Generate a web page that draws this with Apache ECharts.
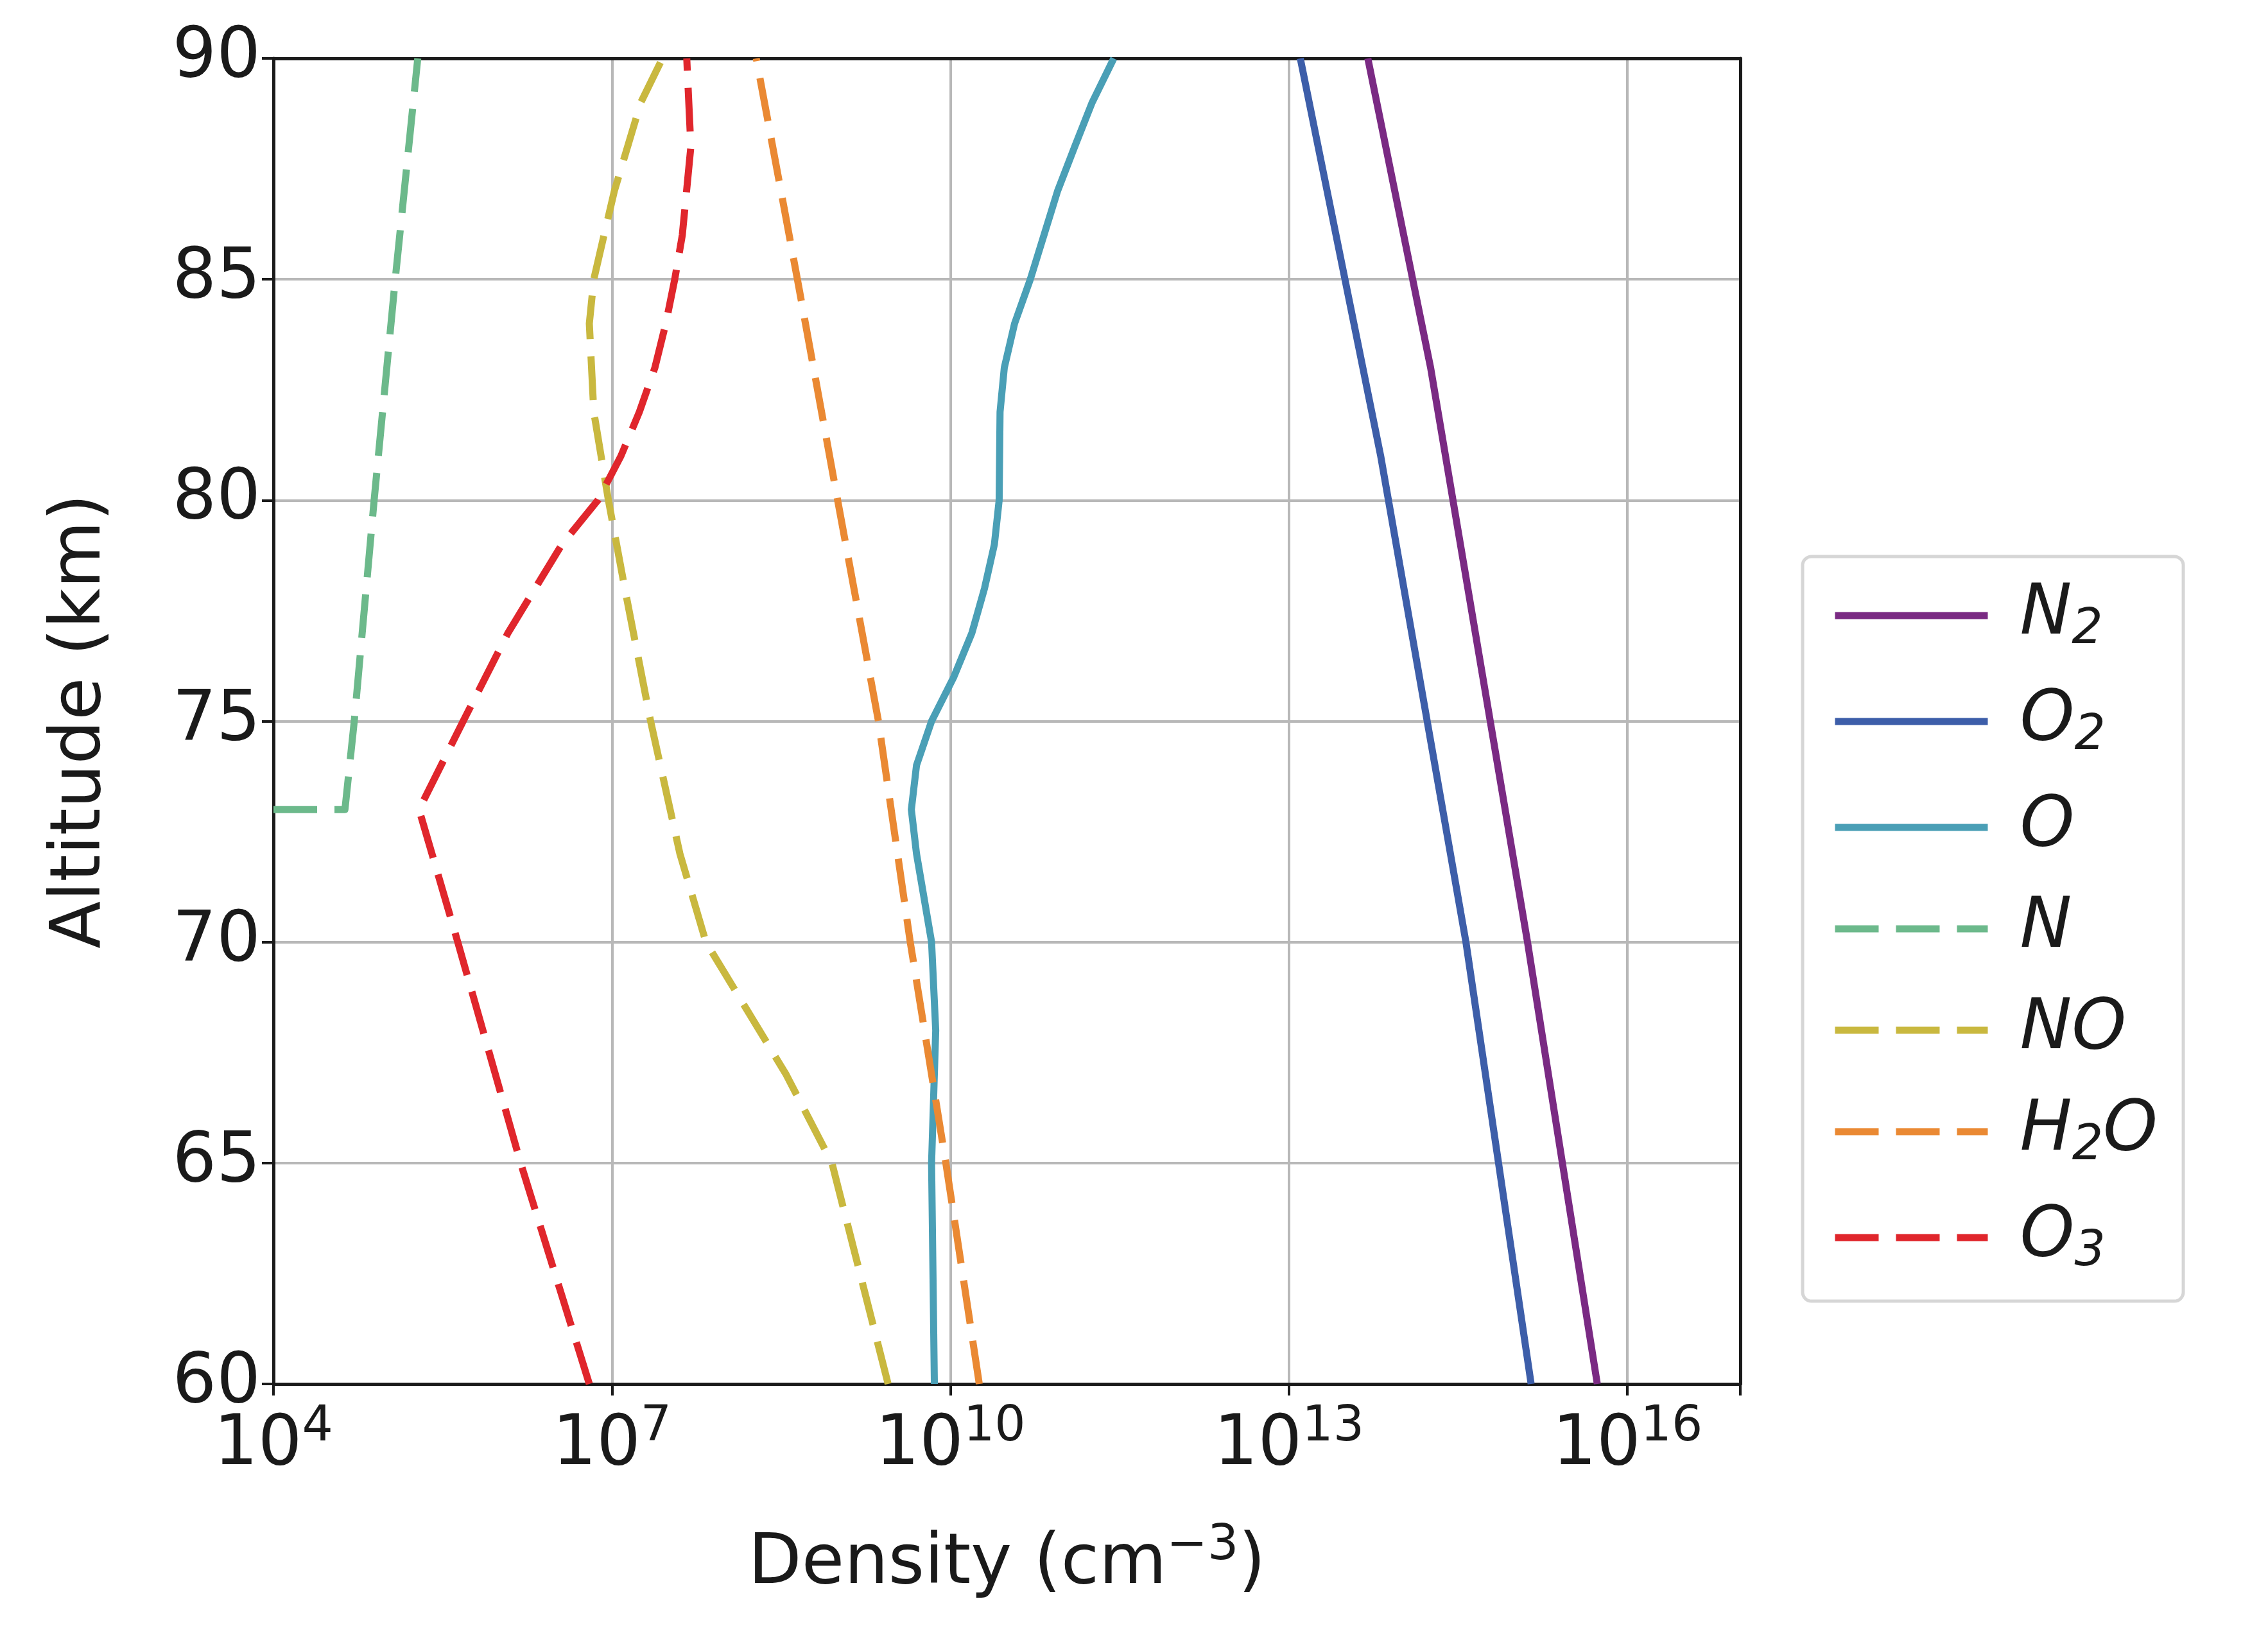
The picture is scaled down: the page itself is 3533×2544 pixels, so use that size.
<!DOCTYPE html>
<html>
<head>
<meta charset="utf-8">
<script src="https://cdn.jsdelivr.net/npm/echarts@6/dist/echarts.min.js"></script>
<style>html,body{margin:0;background:#fff}#c{width:3533px;height:2544px}</style>
</head>
<body>
<div id="c"></div>
<script>
var chart = echarts.init(document.getElementById("c"))

// altitude (km) and density (cm^-3) per species
var n2Alt = [60, 70, 83, 90]
var n2Den = [5.4e15, 1.3e15, 1.8e14, 5.0e13]
var o2Alt = [60, 70, 81, 90]
var o2Den = [1.4e15, 3.7e14, 6.5e13, 1.26e13]
var oAlt = [60, 65, 68, 70, 72, 73, 74, 75, 76, 77, 78, 79, 80, 82, 83, 84, 85, 87, 88, 89, 90]
var oDen = [7.2e9, 6.8e9, 7.4e9, 6.8e9, 5.0e9, 4.5e9, 5.0e9, 6.8e9, 1.07e10, 1.55e10, 2.0e10, 2.45e10, 2.7e10, 2.75e10, 3.0e10, 3.7e10, 5.1e10, 8.9e10, 1.26e11, 1.8e11, 2.8e11]
var nAlt = [73, 73, 75, 80, 85, 90]
var nDen = [1e4, 4.3e4, 5.2e4, 7.8e4, 1.2e5, 1.9e5]
var noAlt = [60, 65, 67, 70, 72, 75, 78, 80, 82, 84, 85, 86, 87, 89, 90]
var noDen = [2.8e9, 8.9e8, 3.5e8, 6.8e7, 4.0e7, 2.2e7, 1.3e7, 9.3e6, 6.9e6, 6.3e6, 6.9e6, 8.5e6, 1.05e7, 1.8e7, 2.8e7]
var h2oAlt = [60, 65, 70, 75, 80, 85, 90]
var h2oDen = [1.8e10, 9.1e9, 4.4e9, 2.3e9, 1.0e9, 4.4e8, 1.9e8]
var o3Alt = [60, 65, 70, 73, 75, 77, 79, 80, 81, 82, 83, 84, 85, 86, 88, 90]
var o3Den = [6.3e6, 1.55e6, 4.3e5, 1.95e5, 4.8e5, 1.2e6, 3.6e6, 7.5e6, 1.2e7, 1.75e7, 2.4e7, 3.0e7, 3.6e7, 4.2e7, 5.0e7, 4.6e7]

var names = ["N2", "O2", "O", "N", "NO", "H2O", "O3"]
var labels = { N2: "N{s|2}", O2: "O{s|2}", O: "O", N: "N", NO: "NO", H2O: "H{s|2}O", O3: "O{s|3}" }
var colors = ["#7a2a83", "#3d5ea9", "#4a9fb6", "#6cb98b", "#c9b83f", "#ea8933", "#e0262c"]
var dashed = [false, false, false, true, true, true, true]
var alts = [n2Alt, o2Alt, oAlt, nAlt, noAlt, h2oAlt, o3Alt]
var dens = [n2Den, o2Den, oDen, nDen, noDen, h2oDen, o3Den]

var series = names.map(function (n, i) {
    return {
        name: n,
        type: "line",
        symbol: "none",
        clip: true,
        xAxisIndex: 0, yAxisIndex: 0,
        data: dens[i].map(function (d, j) { return [d, alts[i][j]] }),
        lineStyle: { color: colors[i], width: 11, type: dashed[i] ? [68, 27] : "solid", cap: "butt", join: "round" },
        itemStyle: { color: colors[i] }
    }
})

var font = "DejaVu Sans"
var ink = "#1a1a1a"
var sup = { fontFamily: font, fontSize: 76, color: ink, verticalAlign: "bottom", padding: [0, 0, 58, 0] }
chart.setOption({
    backgroundColor: "#fff",
    animation: false,
    grid: { left: 426, top: 91, width: 2285, height: 2065 },
    xAxis: [{
        type: "log", logBase: 10, min: 1e4, max: 1e17, interval: 3,
        name: "Density (cm{s|\u22123})", nameLocation: "middle", nameGap: 215,
        nameTextStyle: { fontFamily: font, fontSize: 108, color: ink, rich: { s: sup } },
        axisLine: { show: true, lineStyle: { color: ink, width: 5 } },
        axisTick: { show: true, length: 18, lineStyle: { color: ink, width: 4 } },
        splitLine: { show: true, lineStyle: { color: "#b8b8b8", width: 4 } },
        axisLabel: {
            margin: 30, fontFamily: font, fontSize: 108, color: ink,
            formatter: function (v) {
                var e = Math.round(Math.log10(v))
                return e > 16 ? "" : "10{s|" + e + "}"
            },
            rich: { s: sup }
        }
    }, {
        type: "log", logBase: 10, min: 1e4, max: 1e17, position: "top",
        axisLine: { show: true, onZero: false, lineStyle: { color: ink, width: 5 } },
        axisTick: { show: false }, axisLabel: { show: false }, splitLine: { show: false }
    }],
    yAxis: [{
        type: "value", min: 60, max: 90, interval: 5,
        name: "Altitude (km)", nameLocation: "middle", nameGap: 245,
        nameTextStyle: { fontFamily: font, fontSize: 108, color: ink },
        axisLine: { show: true, lineStyle: { color: ink, width: 5 } },
        axisTick: { show: true, length: 18, lineStyle: { color: ink, width: 4 } },
        splitLine: { show: true, lineStyle: { color: "#b8b8b8", width: 4 } },
        axisLabel: { margin: 20, fontFamily: font, fontSize: 108, color: ink }
    }, {
        type: "value", min: 60, max: 90, position: "right",
        axisLine: { show: true, onZero: false, lineStyle: { color: ink, width: 5 } },
        axisTick: { show: false }, axisLabel: { show: false }, splitLine: { show: false }
    }],
    legend: {
        orient: "vertical", left: 2808, top: 867,
        padding: [38, 40, 38, 45],
        backgroundColor: "#fff", borderColor: "#d6d6d6", borderWidth: 5, borderRadius: 14,
        itemWidth: 238, itemHeight: 20, itemGap: 50,
        itemStyle: { opacity: 0 },
        lineStyle: { width: 11 },
        data: names,
        formatter: function (n) { return labels[n] },
        textStyle: {
            fontFamily: font, fontStyle: "italic", fontSize: 108, color: ink, padding: [0, 0, 0, 45],
            rich: { s: { fontFamily: font, fontSize: 76, color: ink, verticalAlign: "top", padding: [46, 0, 0, 0] } }
        }
    },
    series: series
})
</script>
</body>
</html>
